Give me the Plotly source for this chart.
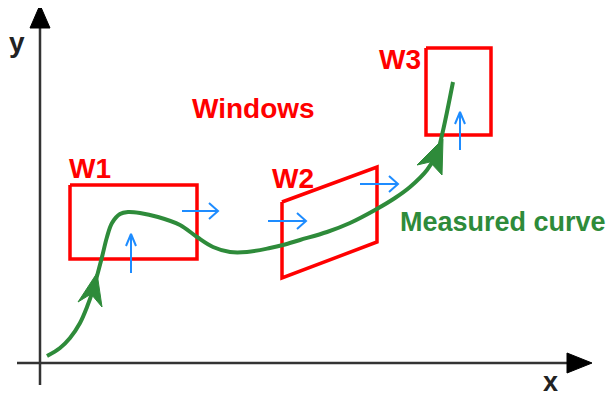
import plotly.graph_objects as go

W, H = 616, 398
PAGE_OFFSET = 8  # browser body margin around the plot div

# ---- axes (pixel-like coordinates, y grows downward)
axis_x = [17, 572, None, 40, 40]
axis_y = [363, 363, None, 385, 26]
x_head_x = [592, 567, 567, 592]
x_head_y = [363, 353, 373, 363]
y_head_x = [40, 30, 50, 40]
y_head_y = [5, 28, 28, 5]

# ---- windows
w1_x = [70, 197, 197, 70, 70]
w1_y = [185, 185, 259, 259, 185]
w2_x = [282, 377, 377, 282, 282]
w2_y = [202, 167, 242, 278, 202]
w3_x = [426, 491, 491, 426, 426]
w3_y = [48, 48, 135, 135, 48]

# ---- measured curve
curve_x = [47, 60, 70, 80, 87, 93, 97, 102, 107, 112, 120, 128, 140, 158, 180,
           197, 213, 230, 247, 270, 283, 300, 327, 350, 375, 395, 410, 427,
           437, 442, 447, 453]
curve_y = [356, 348, 338, 323, 307, 290, 276, 257, 237, 223, 214, 212, 213, 217,
           225, 237, 247, 252, 252, 248, 245, 240, 232, 223, 210, 198, 187, 170,
           153, 135, 112, 82]
head1_x = [97, 78, 91, 102, 97]
head1_y = [273, 302, 294, 307, 273]
head2_x = [443, 417, 430, 442, 443]
head2_y = [139, 165, 162, 175, 139]

# ---- blue move arrows (shaft, then chevron)
blue_x = [182, 218, None, 209, 218, 209, None,
          268, 306, None, 297, 306, 297, None,
          360, 398, None, 389, 398, 389, None,
          131, 131, None, 126, 131, 136, None,
          460, 460, None, 455, 460, 465]
blue_y = [211, 211, None, 203, 211, 219, None,
          221, 221, None, 213, 221, 229, None,
          184, 184, None, 176, 184, 192, None,
          273, 234, None, 246, 234, 246, None,
          150, 112, None, 124, 112, 124]

# ---- labels
labels = ["y", "x", "Windows", "W1", "W2", "W3", "Measured curve"]
label_x = [17, 550, 253, 90, 293, 400, 503]
label_y = [42, 382, 108, 168, 178, 59, 222]
label_size = [28, 27, 28, 28, 28, 28, 27]
label_color = ["#222222", "#222222", "#ff0000", "#ff0000", "#ff0000", "#ff0000", "#2e8b3a"]

RED = "#ff0000"
GREEN = "#2e8b3a"
BLUE = "#1e8cff"
BLACK = "#333333"

fig = go.Figure()

fig.add_trace(go.Scatter(x=axis_x, y=axis_y, mode="lines",
                         line=dict(color=BLACK, width=2.5)))
for hx, hy in [(x_head_x, x_head_y), (y_head_x, y_head_y)]:
    fig.add_trace(go.Scatter(x=hx, y=hy, mode="lines", fill="toself",
                             fillcolor="#000000", line=dict(color="#000000", width=1)))

for wx, wy in [(w1_x, w1_y), (w2_x, w2_y), (w3_x, w3_y)]:
    fig.add_trace(go.Scatter(x=wx, y=wy, mode="lines",
                             line=dict(color=RED, width=3.5)))

fig.add_trace(go.Scatter(x=curve_x, y=curve_y, mode="lines",
                         line=dict(color=GREEN, width=4, shape="spline", smoothing=1)))
for hx, hy in [(head1_x, head1_y), (head2_x, head2_y)]:
    fig.add_trace(go.Scatter(x=hx, y=hy, mode="lines", fill="toself",
                             fillcolor=GREEN, line=dict(color=GREEN, width=1)))

fig.add_trace(go.Scatter(x=blue_x, y=blue_y, mode="lines",
                         line=dict(color=BLUE, width=2)))

for t, lx, ly, s, c in zip(labels, label_x, label_y, label_size, label_color):
    fig.add_annotation(x=lx, y=ly, text="<b>" + t + "</b>", showarrow=False,
                       font=dict(family="Liberation Sans, Arial", size=s, color=c),
                       xanchor="center", yanchor="middle")

# figure fits inside the window once the 8px body margin is added
fig.update_layout(
    width=W - PAGE_OFFSET, height=H - PAGE_OFFSET,
    margin=dict(l=0, r=0, t=0, b=0),
    paper_bgcolor="white",
    plot_bgcolor="white",
    showlegend=False,
    xaxis=dict(range=[PAGE_OFFSET, W], visible=False, fixedrange=True),
    yaxis=dict(range=[H, PAGE_OFFSET], visible=False, fixedrange=True),
)

fig.write_html("out.html")
